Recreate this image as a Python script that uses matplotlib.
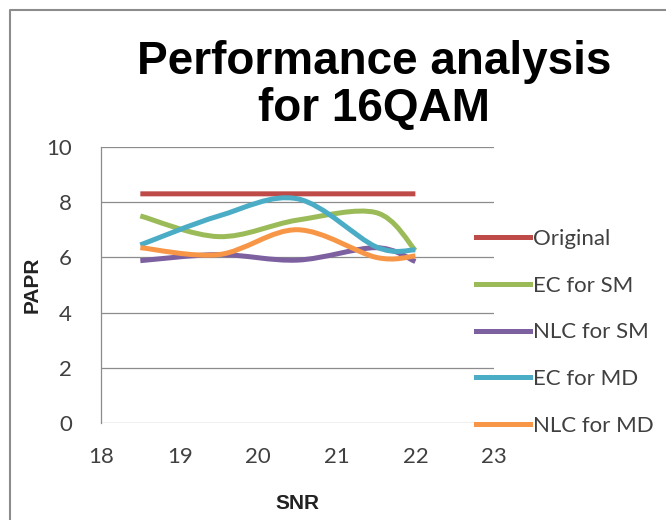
import matplotlib
matplotlib.use("Agg")
import matplotlib.pyplot as plt
from matplotlib.path import Path
from matplotlib.patches import PathPatch
from matplotlib.lines import Line2D

# SNR points and PAPR values per method
snr = [18.5, 19.5, 20.5, 21.5, 22]
original = [8.3, 8.3, 8.3, 8.3, 8.3]
ec_sm = [7.5, 6.75, 7.35, 7.62, 6.25]
nlc_sm = [5.88, 6.1, 5.9, 6.35, 5.85]
ec_md = [6.45, 7.5, 8.12, 6.38, 6.27]
nlc_md = [6.35, 6.1, 7.0, 6.0, 6.05]

series = [
    ("Original", original, "#BE4B48"),
    ("EC for SM", ec_sm, "#9BBB59"),
    ("NLC for SM", nlc_sm, "#7D60A0"),
    ("EC for MD", ec_md, "#4BACC6"),
    ("NLC for MD", nlc_md, "#F79646"),
]

x_ticks = [18, 19, 20, 21, 22, 23]
y_ticks = [0, 2, 4, 6, 8, 10]

LW = 3.6
BODY_FONT = ["Lato", "DejaVu Sans"]


def smooth_path(xs, ys):
    # cubic bezier segments through every point (Catmull-Rom style tangents)
    pts = list(zip(xs, ys))
    n = len(pts)
    verts = [pts[0]]
    codes = [Path.MOVETO]
    for i in range(n - 1):
        p0 = pts[i - 1] if i > 0 else pts[i]
        p1 = pts[i]
        p2 = pts[i + 1]
        p3 = pts[i + 2] if i + 2 < n else pts[i + 1]
        c1 = (p1[0] + (p2[0] - p0[0]) / 6, p1[1] + (p2[1] - p0[1]) / 6)
        c2 = (p2[0] - (p3[0] - p1[0]) / 6, p2[1] - (p3[1] - p1[1]) / 6)
        verts += [c1, c2, p2]
        codes += [Path.CURVE4] * 3
    return Path(verts, codes)


fig = plt.figure(figsize=(6.66, 5.2), dpi=100)
ax = fig.add_axes([0.1517, 0.1865, 0.59, 0.531])

for label, vals, color in series:
    patch = PathPatch(smooth_path(snr, vals), facecolor="none", edgecolor=color,
                      lw=LW, capstyle="butt", joinstyle="round")
    ax.add_patch(patch)

ax.set_xlim(18, 23)
ax.set_ylim(0, 10)
ax.set_xticks(x_ticks)
ax.set_yticks(y_ticks)
ax.grid(axis="y", color="#8c8c8c", lw=0.9)
ax.set_axisbelow(True)
for side in ["top", "right", "bottom"]:
    ax.spines[side].set_visible(False)
ax.spines["left"].set_color("#8c8c8c")
ax.spines["left"].set_linewidth(0.9)
ax.tick_params(length=0, labelsize=16, colors="#404040")
ax.tick_params(axis="x", pad=17)
ax.tick_params(axis="y", pad=21)
for t in ax.get_xticklabels() + ax.get_yticklabels():
    t.set_family(BODY_FONT)

ax.set_xlabel("SNR", fontsize=15, fontweight="bold", family="Liberation Sans",
              labelpad=20, color="#222222")
ax.set_ylabel("PAPR", fontsize=15, fontweight="bold", family="Liberation Sans",
              labelpad=3, color="#222222")

handles = [Line2D([], [], color=c, lw=LW) for _, _, c in series]
leg = ax.legend(handles, [s[0] for s in series], loc="center left",
                bbox_to_anchor=(0.685, 0.361), bbox_transform=fig.transFigure,
                frameon=False, handlelength=2.4, handletextpad=0.15,
                labelspacing=1.2, prop={"family": BODY_FONT, "size": 16})
for t in leg.get_texts():
    t.set_color("#404040")

fig.text(0.5616, 0.836, "Performance analysis\nfor 16QAM", ha="center", va="center",
         fontsize=33, fontweight="bold", family="Liberation Sans", linespacing=1.08)

# outer chart frame, left and top edges
fig.add_artist(Line2D([10 / 666, 10 / 666, 1.0], [0.0, 1 - 10 / 520, 1 - 10 / 520],
                      transform=fig.transFigure, color="#8c8c8c", lw=1.5))

fig.savefig("out.png", dpi=100, facecolor="white")
